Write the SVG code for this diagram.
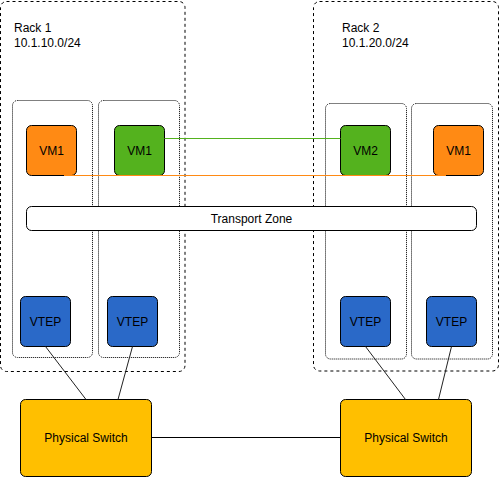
<svg xmlns="http://www.w3.org/2000/svg" width="499" height="477" viewBox="0 0 499 477">
<style>
.rack{fill:none;stroke:#000;stroke-width:1;stroke-dasharray:3 3}
.host{fill:none;stroke:#000;stroke-width:1;stroke-dasharray:1 1}
.vm{stroke:#000;stroke-width:1}
.orange{fill:#FF8A14}
.green{fill:#54B21E}
.vtep{fill:#2A69C8;stroke:#000;stroke-width:1}
.sw{fill:#FFBF00;stroke:#000;stroke-width:1}
.tz{fill:#fff;stroke:#000;stroke-width:1}
text{font-family:"Liberation Sans",Arial,sans-serif;font-size:12px;fill:#000}
.c{text-anchor:middle}
.link{stroke:#222;stroke-width:1;fill:none}
</style>
<rect width="499" height="477" fill="#fff"/>
<g id="rack1">
<rect class="rack" x="0.5" y="1.5" width="184.5" height="370" rx="6"/>
<text x="14" y="32">Rack 1</text>
<text x="14" y="47">10.1.10.0/24</text>
</g>
<g id="rack2">
<rect class="rack" x="313.5" y="1.5" width="185" height="369.5" rx="6"/>
<text x="342" y="32">Rack 2</text>
<text x="342" y="47">10.1.20.0/24</text>
</g>
<g id="host1a"><rect class="host" x="12.5" y="100.5" width="80" height="257" rx="5"/></g>
<g id="host1b"><rect class="host" x="98.5" y="100.5" width="81" height="257" rx="5"/></g>
<g id="host2a"><rect class="host" x="325.5" y="103.5" width="81" height="255.5" rx="5"/></g>
<g id="host2b"><rect class="host" x="411.5" y="103.5" width="81" height="255.5" rx="5"/></g>
<g id="vm1-rack1-orange">
<rect class="vm orange" x="26.5" y="125.5" width="50" height="50" rx="5"/>
<text class="c" x="51.5" y="155">VM1</text>
</g>
<g id="vm1-rack1-green">
<rect class="vm green" x="114.5" y="125.5" width="50" height="50" rx="5"/>
<text class="c" x="139.5" y="155">VM1</text>
</g>
<g id="vm2-rack2-green">
<rect class="vm green" x="340.5" y="125.5" width="50" height="50" rx="5"/>
<text class="c" x="365.5" y="155">VM2</text>
</g>
<g id="vm1-rack2-orange">
<rect class="vm orange" x="433.5" y="125.5" width="50" height="50" rx="5"/>
<text class="c" x="458.5" y="155">VM1</text>
</g>
<g id="transport-zone">
<rect class="tz" x="26.5" y="206.5" width="450" height="24" rx="5"/>
<text class="c" x="251.5" y="223">Transport Zone</text>
</g>
<g id="vtep1a"><rect class="vtep" x="20.5" y="296.5" width="50" height="50" rx="5"/><text class="c" x="45.5" y="325.5">VTEP</text></g>
<g id="vtep1b"><rect class="vtep" x="107.5" y="296.5" width="50" height="50" rx="5"/><text class="c" x="132.5" y="325.5">VTEP</text></g>
<g id="vtep2a"><rect class="vtep" x="340.5" y="296.5" width="50" height="50" rx="5"/><text class="c" x="365.5" y="325.5">VTEP</text></g>
<g id="vtep2b"><rect class="vtep" x="426.5" y="296.5" width="50" height="50" rx="5"/><text class="c" x="451.5" y="325.5">VTEP</text></g>
<g id="switch1"><rect class="sw" x="20.5" y="399.5" width="131" height="77" rx="5"/><text class="c" x="86" y="442">Physical Switch</text></g>
<g id="switch2"><rect class="sw" x="340.5" y="399.5" width="131" height="77" rx="5"/><text class="c" x="406" y="442">Physical Switch</text></g>
<g id="connectors">
<line x1="164.5" y1="138.5" x2="340.5" y2="138.5" stroke="#54B21E" stroke-width="1"/>
<line x1="64" y1="175.5" x2="446" y2="175.5" stroke="#FF8A14" stroke-width="1"/>
<line class="link" x1="45.5" y1="346.5" x2="86" y2="399.5"/>
<line class="link" x1="132.5" y1="346.5" x2="118" y2="399.5"/>
<line class="link" x1="365.5" y1="346.5" x2="405.5" y2="399.5"/>
<line class="link" x1="451.5" y1="346.5" x2="438.5" y2="399.5"/>
<line x1="151.5" y1="437.5" x2="340.5" y2="437.5" stroke="#000" stroke-width="1"/>
</g>
</svg>
